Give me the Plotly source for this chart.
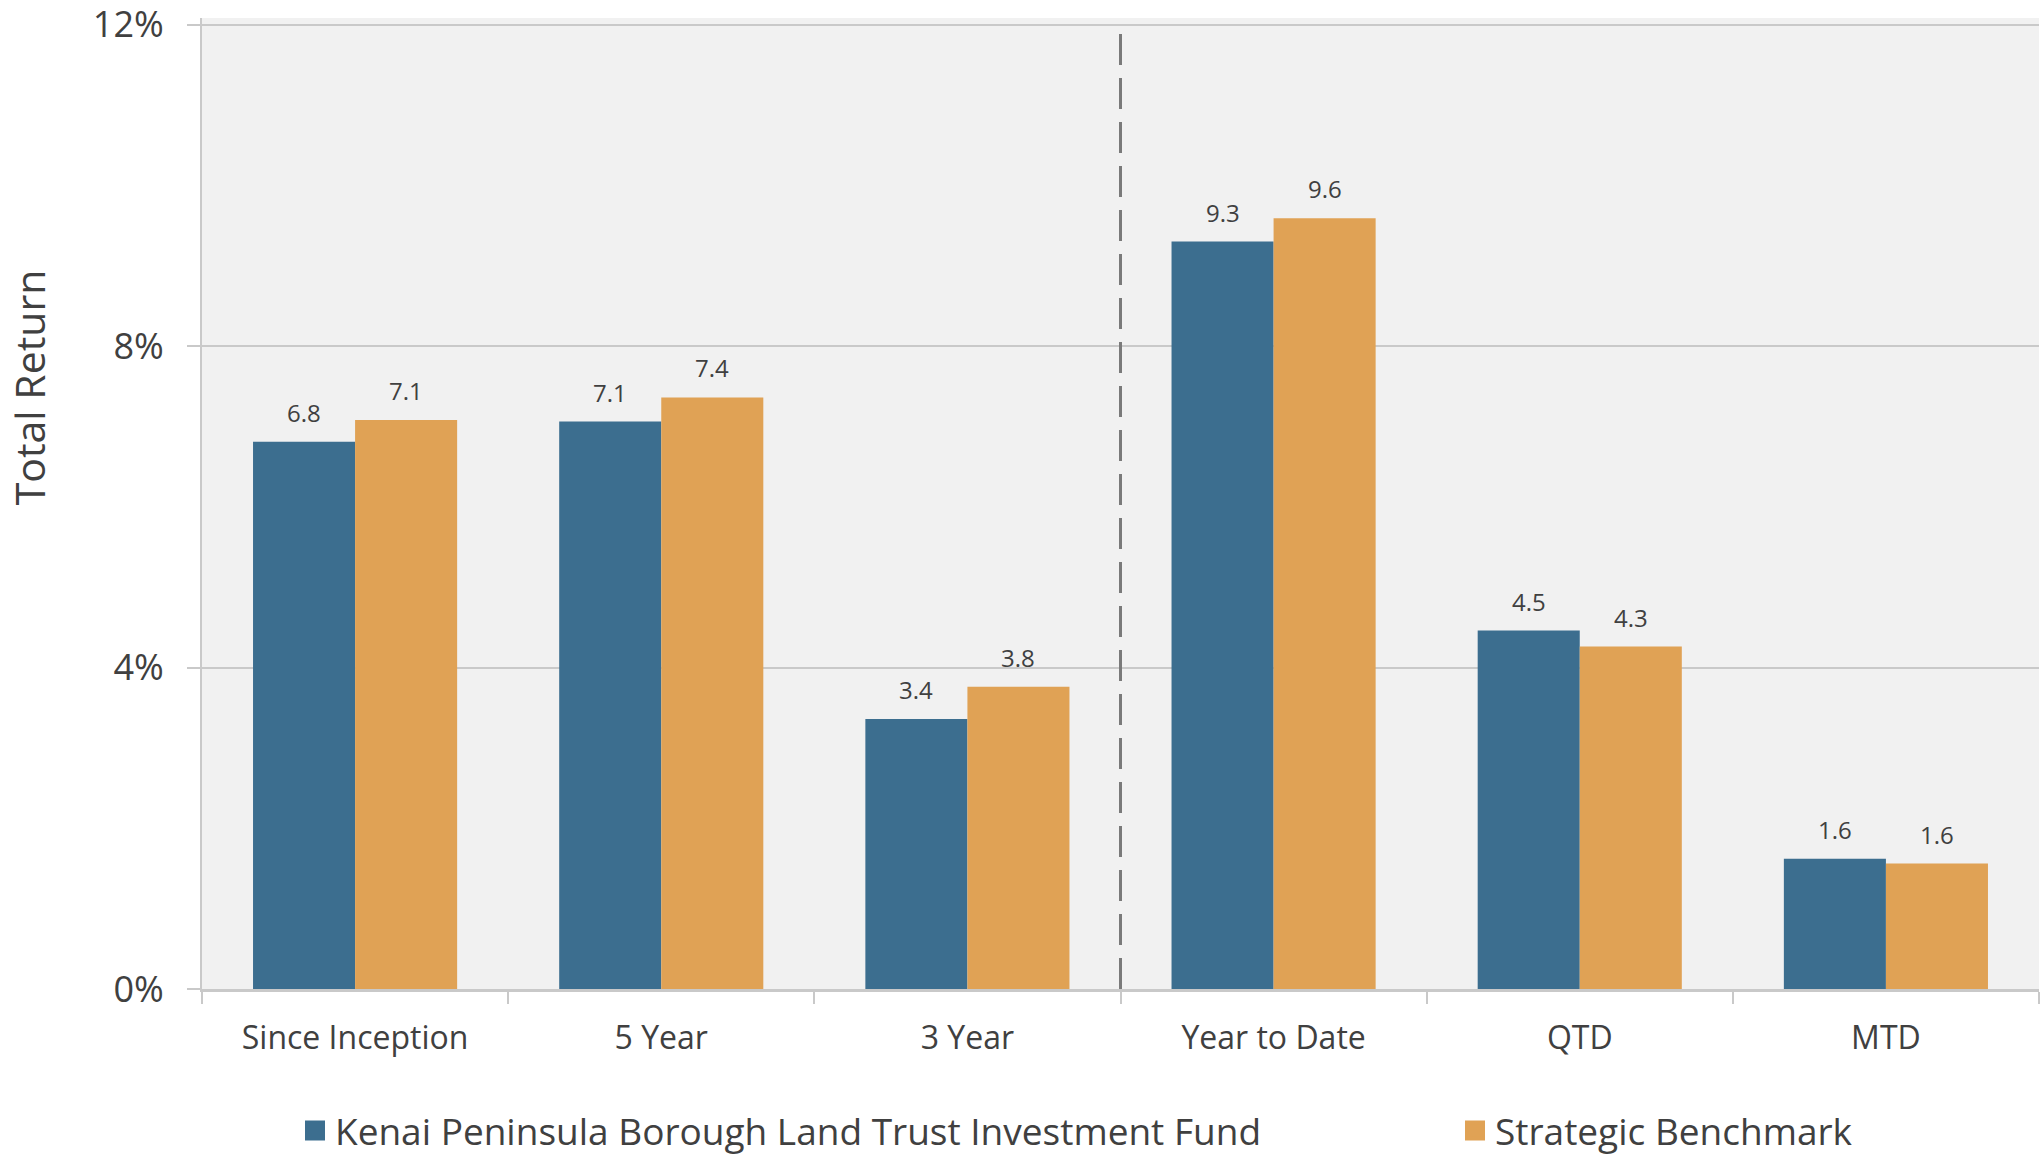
import plotly.graph_objects as go

categories = ["Since Inception", "5 Year", "3 Year", "Year to Date", "QTD", "MTD"]
fund_name = "Kenai Peninsula Borough Land Trust Investment Fund"
bench_name = "Strategic Benchmark"
fund_values = [6.81, 7.06, 3.36, 9.30, 4.46, 1.62]
bench_values = [7.08, 7.36, 3.76, 9.59, 4.26, 1.56]
y_ticks = [0, 4, 8, 12]
y_tick_labels = ["0%", "4%", "8%", "12%"]

BLUE = "#3c6e8f"
ORANGE = "#e0a255"
GRID = "#c9c9c9"
TXT = "#404040"
FONT = "Open Sans"

W, H = 2042, 1155
ML, MR, MT, MB = 202, 3, 18, 166
plot_w = W - ML - MR
plot_h = H - MT - MB
Y0_PX, Y12_PX = 989, 24.5
y_max = 12 + (Y12_PX - MT) * 12 / (Y0_PX - Y12_PX)

fig = go.Figure()
fig.add_trace(go.Bar(x=categories, y=fund_values, name=fund_name,
                     marker=dict(color=BLUE, line=dict(width=0)), showlegend=False))
fig.add_trace(go.Bar(x=categories, y=bench_values, name=bench_name,
                     marker=dict(color=ORANGE, line=dict(width=0)), showlegend=False))
# legend entries with bigger squares
fig.add_trace(go.Scatter(x=[None], y=[None], mode="markers", name=fund_name, legend="legend",
                         marker=dict(symbol="square", size=16, color=BLUE,
                                     line=dict(color=BLUE, width=4))))
fig.add_trace(go.Scatter(x=[None], y=[None], mode="markers", name=bench_name, legend="legend2",
                         marker=dict(symbol="square", size=16, color=ORANGE,
                                     line=dict(color=ORANGE, width=4))))

bargap = 1 / 3
bar_px = plot_w / len(categories) * (1 - bargap) / 2
for series, vals in ((0, fund_values), (1, bench_values)):
    for cat, v in zip(categories, vals):
        fig.add_annotation(x=cat, y=v, text=f"{v:.1f}", showarrow=False,
                           xshift=(series - 0.5) * bar_px, yanchor="bottom", yshift=11,
                           font=dict(family=FONT, size=24, color=TXT))

fig.add_shape(type="line", xref="x", yref="y", x0=2.5, x1=2.5, y0=0, y1=12,
              line=dict(color="#7a7a7a", width=3, dash="31px,13px"))

fig.add_annotation(xref="paper", yref="paper", x=-0.094, y=(Y0_PX - 387) / (Y0_PX - MT),
                   text="Total Return", textangle=-90, showarrow=False,
                   xanchor="center", yanchor="middle",
                   font=dict(family=FONT, size=41, color=TXT))

leg_y = -(1131 - Y0_PX) / plot_h
fig.update_layout(
    width=W, height=H,
    margin=dict(l=ML, r=MR, t=MT, b=MB, autoexpand=False),
    paper_bgcolor="white", plot_bgcolor="#f1f1f1",
    barmode="group", bargap=bargap, bargroupgap=0,
    font=dict(family=FONT, color=TXT),
    legend=dict(orientation="h", x=(295 - ML) / plot_w, xanchor="left", y=leg_y, yanchor="middle",
                font=dict(family=FONT, size=37, color=TXT), bgcolor="rgba(0,0,0,0)"),
    legend2=dict(orientation="h", x=(1455 - ML) / plot_w, xanchor="left", y=leg_y, yanchor="middle",
                 font=dict(family=FONT, size=37, color=TXT), bgcolor="rgba(0,0,0,0)"),
)
fig.update_xaxes(type="category", showgrid=False, showline=True, linecolor=GRID, linewidth=3,
                 ticks="outside", tickson="boundaries", ticklen=12, tickcolor=GRID, tickwidth=2,
                 tickfont=dict(family=FONT, size=32, color=TXT), ticklabelstandoff=19,
                 range=[-0.5, 5.5])
fig.update_yaxes(range=[0, y_max], tickvals=y_ticks, ticktext=y_tick_labels,
                 showgrid=True, gridcolor=GRID, gridwidth=2, zeroline=False,
                 showline=True, linecolor=GRID, linewidth=2,
                 ticks="outside", ticklen=13, tickcolor=GRID, tickwidth=2,
                 ticklabeloverflow="allow",
                 tickfont=dict(family=FONT, size=36, color=TXT), ticklabelstandoff=16)

fig.write_html("out.html")
